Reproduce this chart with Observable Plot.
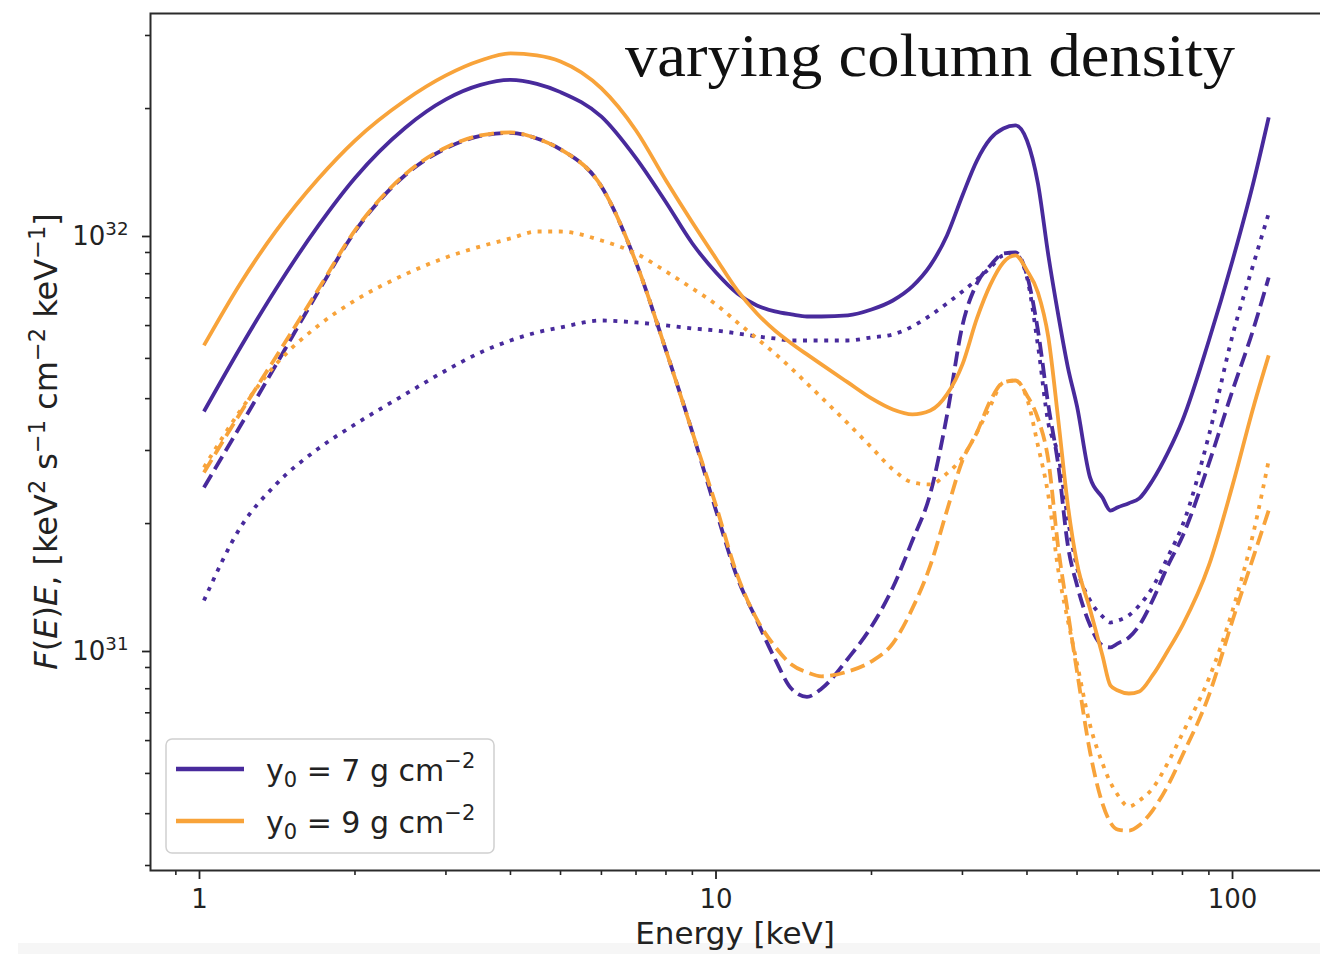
<!DOCTYPE html>
<html>
<head>
<meta charset="utf-8">
<script src="https://cdn.jsdelivr.net/npm/d3@7"></script>
<script src="https://cdn.jsdelivr.net/npm/@observablehq/plot@0.6"></script>
<style>
  html, body { margin: 0; padding: 0; overflow: hidden; background: #fff; }
  #wrap { position: relative; width: 1320px; height: 954px; overflow: hidden; background: #fff; }
  #band { position: absolute; left: 18px; top: 943px; width: 1302px; height: 11px; background: #f6f6f6; }
  #chart { position: absolute; left: 0; top: 0; width: 1330px; }
  #chart svg { max-width: none !important; }
</style>
</head>
<body>
<div id="wrap"><div id="band"></div><div id="chart"></div></div>
<script>
// Photon energy grid (keV)
const energy = [1.02, 1.2, 1.4, 1.7, 2, 2.5, 3, 3.5, 4, 4.5, 5, 6, 7, 8, 9, 10, 11, 12, 13, 14, 15, 16, 18, 20, 22, 24, 26, 28, 30, 32, 34, 36, 38, 40, 42, 44, 46, 48, 50, 53, 56, 58, 60, 63, 66, 70, 75, 80, 90, 100, 110, 117.5];

// F(E)E in units of 1e31 keV^2 s^-1 cm^-2 keV^-1
// y0 = 7 g cm^-2
const y7Solid = [3.725, 5.314, 7.289, 10.46, 13.61, 17.96, 21.04, 22.80, 23.45, 22.94, 21.91, 19.12, 15.19, 11.89, 9.46, 8.056, 7.171, 6.709, 6.488, 6.382, 6.31, 6.31, 6.35, 6.558, 6.895, 7.455, 8.376, 9.893, 12.35, 14.99, 16.94, 17.91, 18.22, 16.75, 13.20, 8.85, 6.35, 4.76, 3.83, 2.58, 2.31, 2.15, 2.19, 2.24, 2.30, 2.54, 2.968, 3.544, 5.523, 8.608, 13.42, 19.04];
const y7Dashed = [2.444, 3.440, 4.778, 7.261, 10.11, 13.81, 16.04, 17.18, 17.48, 16.94, 15.95, 12.98, 8.52, 5.23, 3.32, 2.15, 1.48, 1.168, 0.945, 0.80, 0.765, 0.80, 0.945, 1.130, 1.403, 1.821, 2.364, 3.645, 6.005, 7.58, 8.38, 8.95, 9.00, 7.93, 5.84, 3.85, 2.76, 1.77, 1.42, 1.137, 1.017, 1.006, 1.029, 1.063, 1.137, 1.305, 1.585, 1.862, 2.792, 4.185, 5.938, 7.837];
const y7Dotted = [1.305, 1.957, 2.472, 3.034, 3.467, 4.095, 4.676, 5.169, 5.523, 5.775, 5.938, 6.171, 6.104, 6.005, 5.905, 5.838, 5.744, 5.649, 5.586, 5.523, 5.523, 5.523, 5.523, 5.618, 5.712, 5.971, 6.347, 6.783, 7.25, 7.749, 8.283, 8.854, 8.903, 7.837, 5.374, 3.489, 2.919, 2.045, 1.566, 1.305, 1.195, 1.155, 1.168, 1.202, 1.27, 1.403, 1.666, 1.979, 3.262, 5.681, 8.515, 11.18];
// y0 = 9 g cm^-2
const y9Solid = [5.374, 7.58, 10.06, 13.57, 16.75, 20.92, 24.04, 26.11, 27.15, 26.86, 25.97, 22.36, 17.71, 13.42, 10.63, 8.706, 7.289, 6.417, 5.838, 5.434, 5.112, 4.836, 4.376, 4.004, 3.766, 3.665, 3.745, 4.095, 4.836, 6.241, 7.539, 8.515, 8.854, 8.144, 7.21, 5.618, 3.544, 2.212, 1.603, 1.242, 0.962, 0.815, 0.792, 0.779, 0.788, 0.861, 0.989, 1.137, 1.585, 2.472, 3.852, 5.084];
const y9Dashed = [2.656, 3.695, 4.999, 7.351, 10.17, 13.88, 16.12, 17.23, 17.52, 16.94, 15.95, 12.98, 8.52, 5.23, 3.32, 2.21, 1.50, 1.175, 1.012, 0.915, 0.876, 0.857, 0.880, 0.931, 1.029, 1.249, 1.585, 2.151, 2.838, 3.316, 3.959, 4.376, 4.424, 4.072, 3.584, 2.838, 1.742, 1.222, 0.880, 0.562, 0.423, 0.381, 0.366, 0.364, 0.375, 0.407, 0.468, 0.553, 0.771, 1.168, 1.676, 2.151];
const y9Dotted = [2.731, 3.745, 4.81, 6.005, 6.895, 7.968, 8.756, 9.307, 9.728, 10.11, 10.11, 9.618, 8.952, 8.100, 7.372, 6.746, 6.104, 5.586, 5.140, 4.729, 4.352, 4.027, 3.486, 3.051, 2.700, 2.513, 2.485, 2.642, 2.887, 3.316, 3.852, 4.376, 4.424, 4.004, 3.085, 2.337, 1.541, 1.168, 0.920, 0.653, 0.529, 0.476, 0.443, 0.416, 0.430, 0.460, 0.531, 0.624, 0.847, 1.235, 1.924, 2.838];

// Column densities and their colours
const densities = [7, 9];
const densityColors = ["#482a9c", "#f8a33a"];

// Axis ticks
const xMajor = [1, 10, 100];
const xMinor = [0.9, 2, 3, 4, 5, 6, 7, 8, 9, 20, 30, 40, 50, 60, 70, 80, 90];
const yMajor = [1e31, 1e32];
const yMinor = [3e30, 4e30, 5e30, 6e30, 7e30, 8e30, 9e30, 2e31, 3e31, 4e31, 5e31, 6e31, 7e31, 8e31, 9e31, 2e32, 3e32];

const curves = [
  {density: 7, style: "solid", values: y7Solid},
  {density: 7, style: "dashed", values: y7Dashed},
  {density: 7, style: "dotted", values: y7Dotted},
  {density: 9, style: "solid", values: y9Solid},
  {density: 9, style: "dashed", values: y9Dashed},
  {density: 9, style: "dotted", values: y9Dotted}
];
const dashes = {solid: null, dashed: "14.8,6.4", dotted: "4,6.6"};
const colorOf = d => densityColors[densities.indexOf(d)];

const rows = curves.flatMap((c, k) =>
  energy.map((e, i) => ({energy: e, flux: c.values[i] * 1e31, curve: k}))
);

const lineMarks = curves.map((c, k) =>
  Plot.line(rows.filter(r => r.curve === k), {
    x: "energy", y: "flux",
    stroke: colorOf(c.density),
    strokeWidth: 3.8,
    strokeDasharray: dashes[c.style],
    strokeLinecap: "butt",
    strokeLinejoin: "round",
    curve: "monotone-x"
  })
);

const plot = Plot.plot({
  width: 1330,
  height: 954,
  marginLeft: 150,
  marginRight: 5,
  marginTop: 13,
  marginBottom: 84,
  x: {type: "log", domain: [0.8038, 151.36]},
  y: {type: "log", domain: [2.918e30, 3.389e32]},
  style: {fontFamily: "'DejaVu Sans', sans-serif", fontSize: "26px", color: "#222", background: "transparent", overflow: "visible", maxWidth: "none"},
  marks: [
    ...lineMarks,
    Plot.axisX({ticks: xMinor, tickSize: 5, tickFormat: () => "", label: null, strokeWidth: 1.6}),
    Plot.axisX({ticks: xMajor, tickSize: 9, tickPadding: 10, tickFormat: d => String(d), label: null, strokeWidth: 1.8}),
    Plot.axisY({ticks: yMinor, tickSize: 5, tickFormat: () => "", label: null, strokeWidth: 1.6}),
    Plot.axisY({ticks: yMajor, tickSize: 8, tickPadding: 14, dy: 3, tickFormat: d => `10^${Math.round(Math.log10(d))}`, label: null, strokeWidth: 1.8}),
    Plot.frame({stroke: "#2b2b2b", strokeWidth: 2})
  ]
});
document.getElementById("chart").appendChild(plot);

const svg = d3.select(plot);
const sans = "'DejaVu Sans', sans-serif";

// power-of-ten tick labels: raise the exponent
svg.selectAll("text").each(function() {
  const m = /^10\^(\d+)$/.exec(this.textContent);
  if (!m) return;
  const t = d3.select(this);
  t.text("");
  t.append("tspan").text("10");
  t.append("tspan").attr("font-size", "70%").attr("dy", "-0.55em").text(m[1]);
});

// x-axis title
svg.append("text")
  .attr("x", 735).attr("y", 944)
  .attr("text-anchor", "middle")
  .attr("font-family", sans).attr("font-size", 31).attr("fill", "#222")
  .text("Energy [keV]");

// y-axis title with italic F(E)E and superscript exponents
const yl = svg.append("text")
  .attr("transform", "translate(57,441.5) rotate(-90)")
  .attr("text-anchor", "middle")
  .attr("font-family", sans).attr("font-size", 32).attr("fill", "#222");
const part = (t, italic) => yl.append("tspan").attr("font-style", italic ? "italic" : "normal").text(t);
const sup = t => { yl.append("tspan").attr("font-size", "70%").attr("dy", -12).text(t); };
const down = t => { yl.append("tspan").attr("dy", 12).text(t); };
part("F", true); part("("); part("E", true); part(")"); part("E", true); part(", [keV");
sup("2"); down(" s"); sup("−1"); down(" cm"); sup("−2"); down(" keV"); sup("−1"); down("]");

// annotation
svg.append("text")
  .attr("x", 625).attr("y", 76)
  .attr("text-anchor", "start")
  .attr("font-family", "'Liberation Serif', serif")
  .attr("font-size", 61)
  .attr("textLength", 610).attr("lengthAdjust", "spacingAndGlyphs")
  .attr("fill", "#111")
  .text("varying column density");

// legend
const lg = svg.append("g");
lg.append("rect")
  .attr("x", 166).attr("y", 739).attr("width", 328).attr("height", 114).attr("rx", 6)
  .attr("fill", "white").attr("fill-opacity", 0.85)
  .attr("stroke", "#d0d0d0").attr("stroke-width", 1.5);
densities.forEach((d, i) => {
  const cy = 769 + i * 52;
  lg.append("line")
    .attr("x1", 176).attr("x2", 244).attr("y1", cy).attr("y2", cy)
    .attr("stroke", densityColors[i]).attr("stroke-width", 4.5);
  const t = lg.append("text")
    .attr("x", 266).attr("y", cy + 12)
    .attr("text-anchor", "start")
    .attr("font-family", sans).attr("font-size", 30).attr("fill", "#222");
  t.append("tspan").text("y");
  t.append("tspan").attr("font-size", "70%").attr("dy", 6).text("0");
  t.append("tspan").attr("dy", -6).text(` = ${d} g cm`);
  t.append("tspan").attr("font-size", "70%").attr("dy", -13).text("−2");
});
</script>
</body>
</html>
